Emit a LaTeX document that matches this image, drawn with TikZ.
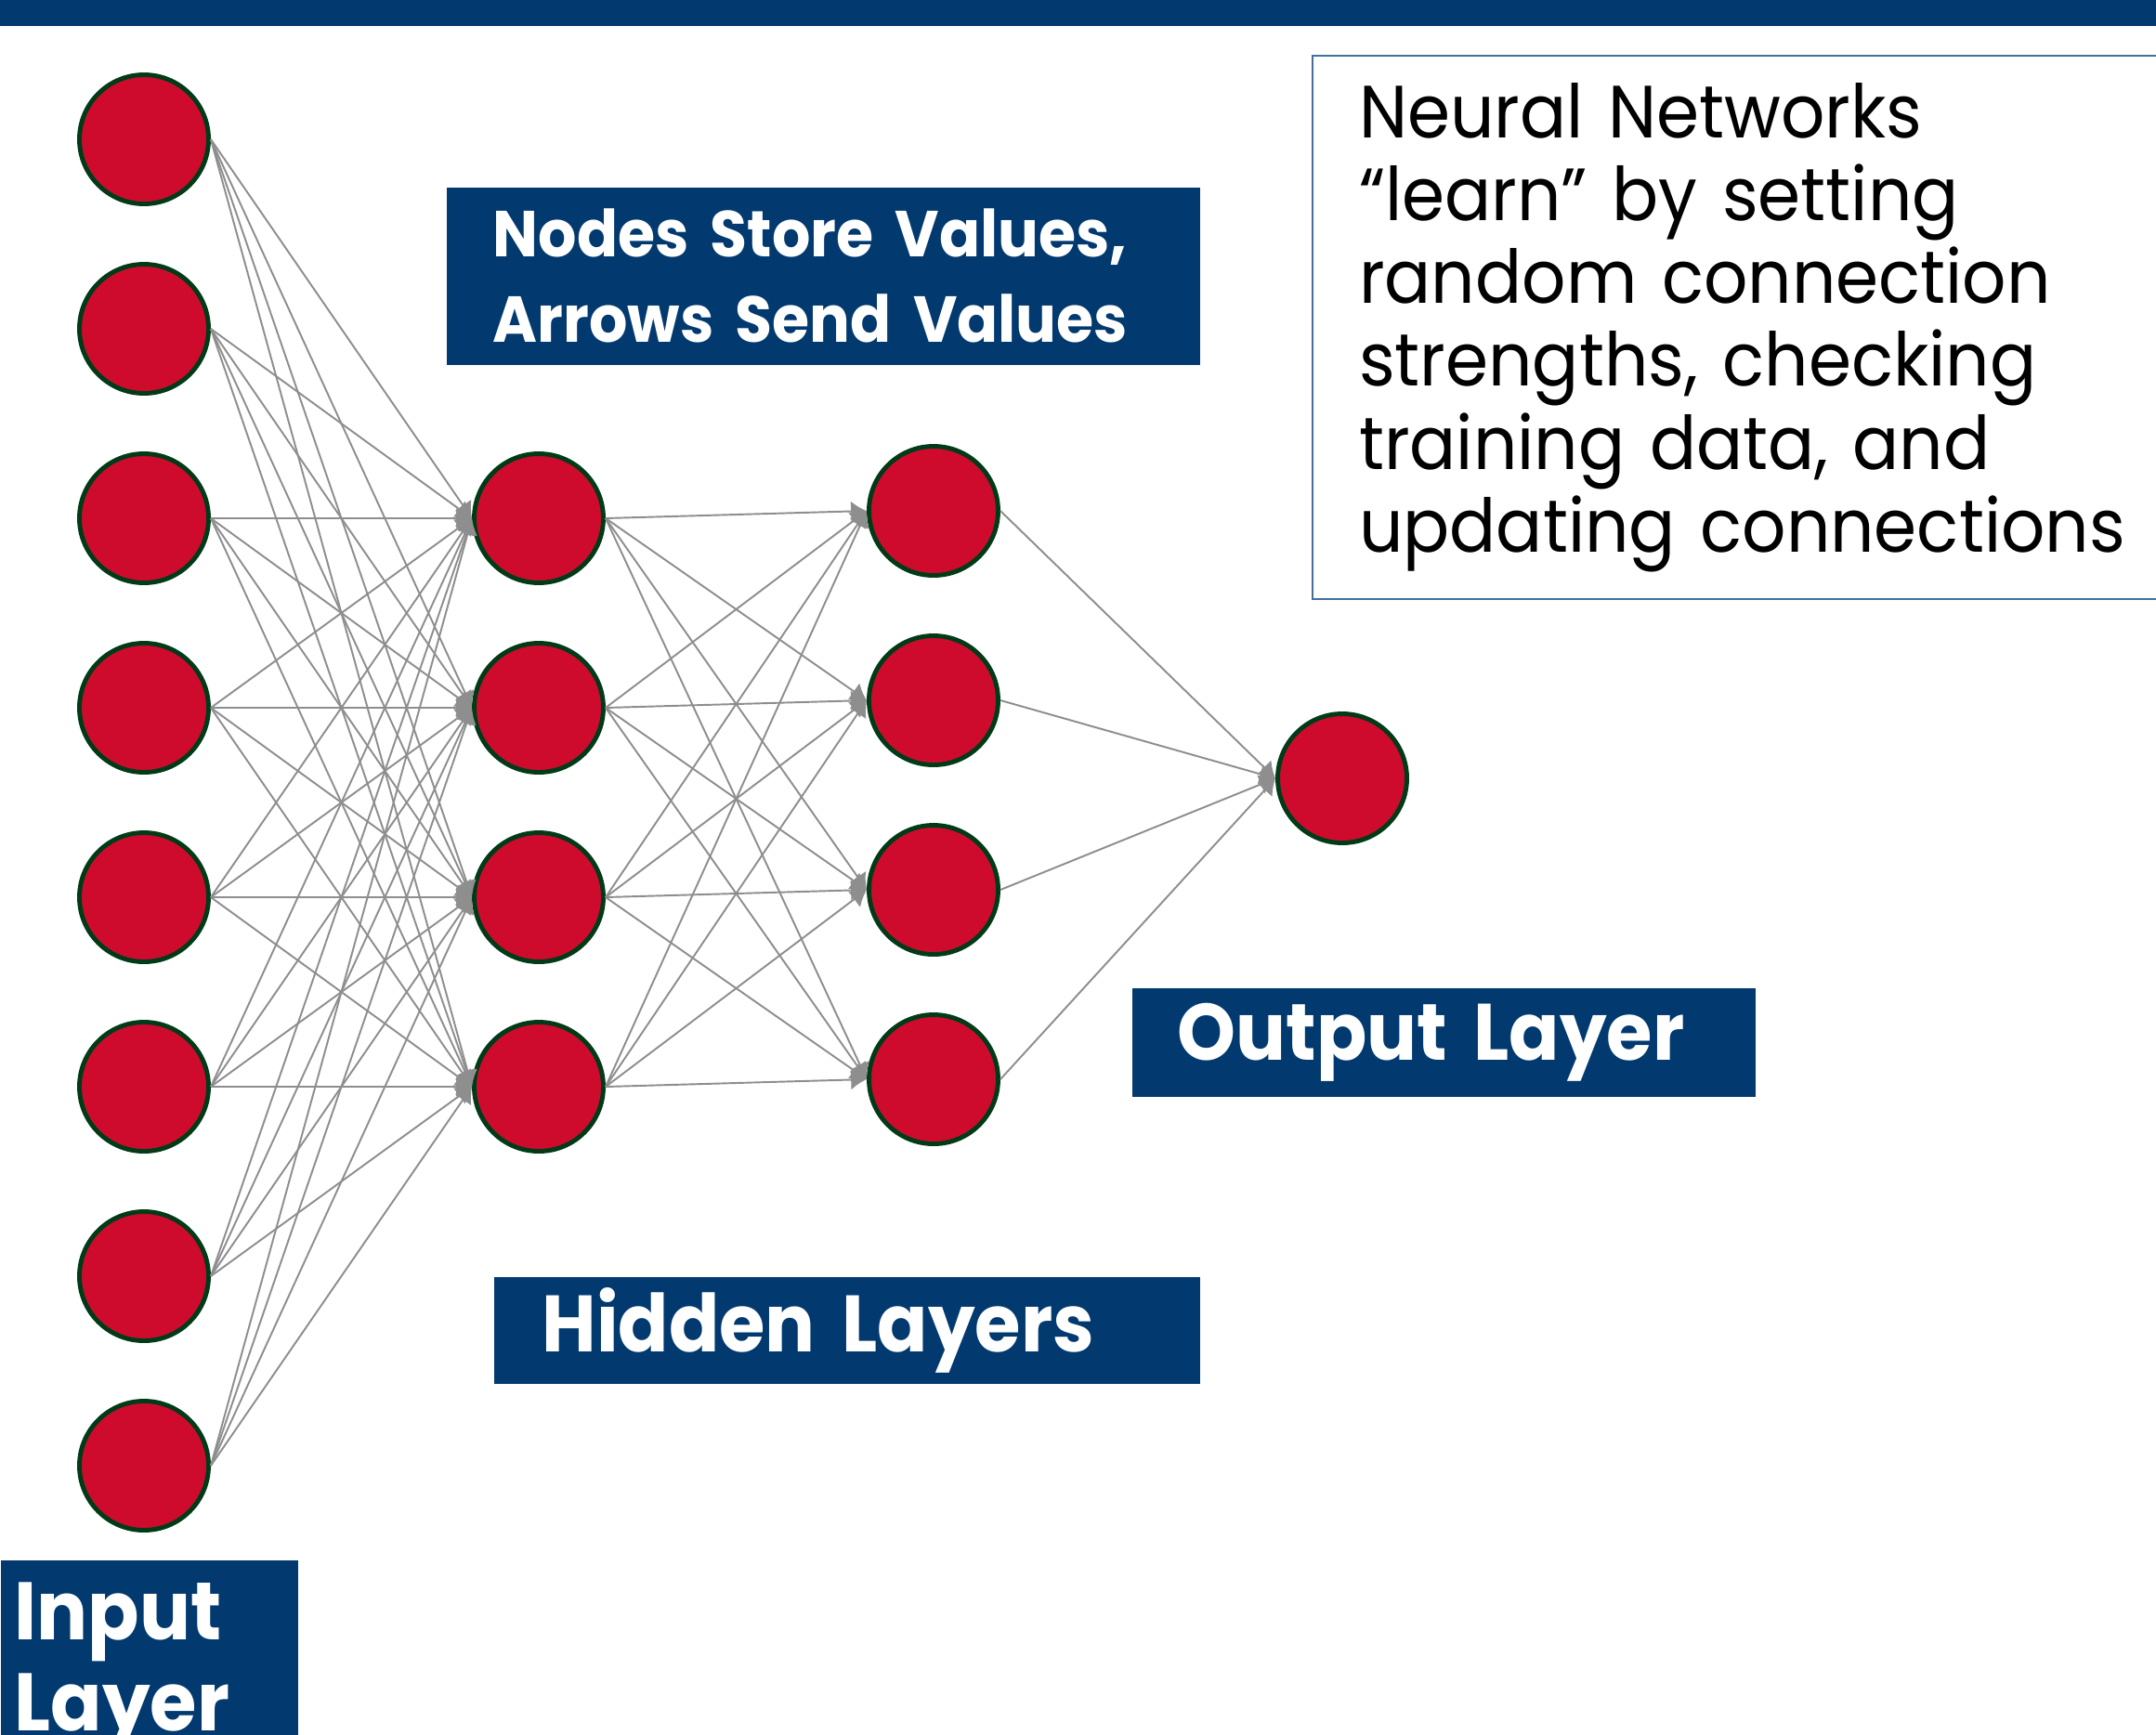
\documentclass[tikz,border=0pt]{standalone}
\usepackage{fontspec}
\setmainfont{Poppins}[FakeStretch=0.93]
\usetikzlibrary{arrows.meta}

\definecolor{navy}{HTML}{023A70}
\definecolor{nodered}{HTML}{CE0B2D}
\definecolor{rim}{HTML}{003B17}
\definecolor{wire}{HTML}{8E8E8E}
\definecolor{frame}{HTML}{41719C}

\begin{document}
\begin{tikzpicture}
	\tikzstyle{neuron}=[draw=rim, fill=nodered, circle, line width=1.4pt, minimum size=1.39cm, inner sep=0pt]
	\tikzstyle{link}=[draw=wire, line width=0.55pt, -{Latex[length=4.8pt,width=6.2pt]}]
	\tikzstyle{banner}=[fill=navy, text=white, align=left, anchor=north west, inner ysep=0pt]
	\newcommand\Xin{1.55}
	\newcommand\Xha{5.80}
	\newcommand\Xhb{10.05}
	\newcommand\Xout{14.45}

	\useasboundingbox (0,0) rectangle (23.21,-18.67);

	% Top bar
	\fill [navy] (0,0) rectangle (23.21,-0.28);

	% Input layer
	\node [neuron] at (\Xin,-1.50) (i1) {};
	\node [neuron] at (\Xin,-3.54) (i2) {};
	\node [neuron] at (\Xin,-5.58) (i3) {};
	\node [neuron] at (\Xin,-7.62) (i4) {};
	\node [neuron] at (\Xin,-9.66) (i5) {};
	\node [neuron] at (\Xin,-11.70) (i6) {};
	\node [neuron] at (\Xin,-13.74) (i7) {};
	\node [neuron] at (\Xin,-15.78) (i8) {};

	% Hidden layers
	\node [neuron] at (\Xha,-5.58) (ha1) {};
	\node [neuron] at (\Xha,-7.62) (ha2) {};
	\node [neuron] at (\Xha,-9.66) (ha3) {};
	\node [neuron] at (\Xha,-11.70) (ha4) {};

	\node [neuron] at (\Xhb,-5.50) (hb1) {};
	\node [neuron] at (\Xhb,-7.54) (hb2) {};
	\node [neuron] at (\Xhb,-9.58) (hb3) {};
	\node [neuron] at (\Xhb,-11.62) (hb4) {};

	% Output layer
	\node [neuron] at (\Xout,-8.38) (out) {};

	% Labels
	\node [banner, inner xsep=0.5cm, text width=7.11cm, minimum height=1.91cm, font=\bfseries\fontsize{19.9}{26.2}\selectfont] at (4.80,-2.01) (storebox) {Nodes Store Values,\\Arrows Send Values};
	\node [banner, inner xsep=0.52cm, text width=6.56cm, minimum height=1.15cm, font=\bfseries\fontsize{24.5}{28}\selectfont] at (5.31,-13.74) (hiddenbox) {Hidden Layers};
	\node [banner, inner xsep=0.49cm, text width=5.73cm, minimum height=1.17cm, font=\bfseries\fontsize{24.5}{28}\selectfont] at (12.18,-10.63) (outbox) {Output Layer};
	\node [banner, inner xsep=0.15cm, inner ysep=0.24cm, text width=2.90cm, font=\bfseries\fontsize{25}{27.9}\selectfont] at (0,-16.79) (inbox) {Input\\Layer};
	\node [draw=frame, line width=0.6pt, anchor=north west, align=left, inner xsep=0.5cm, text width=9cm, minimum height=5.85cm, font=\fontsize{22.7}{25.4}\selectfont] at (14.12,-0.59) (note) {Neural Networks\\“learn” by setting\\random connection\\strengths, checking\\training data, and\\updating connections};

	% Input to first hidden
	\path [link] (i1.east) -- (ha1.west);
	\path [link] (i1.east) -- (ha2.west);
	\path [link] (i1.east) -- (ha3.west);
	\path [link] (i1.east) -- (ha4.west);
	\path [link] (i2.east) -- (ha1.west);
	\path [link] (i2.east) -- (ha2.west);
	\path [link] (i2.east) -- (ha3.west);
	\path [link] (i2.east) -- (ha4.west);
	\path [link] (i3.east) -- (ha1.west);
	\path [link] (i3.east) -- (ha2.west);
	\path [link] (i3.east) -- (ha3.west);
	\path [link] (i3.east) -- (ha4.west);
	\path [link] (i4.east) -- (ha1.west);
	\path [link] (i4.east) -- (ha2.west);
	\path [link] (i4.east) -- (ha3.west);
	\path [link] (i4.east) -- (ha4.west);
	\path [link] (i5.east) -- (ha1.west);
	\path [link] (i5.east) -- (ha2.west);
	\path [link] (i5.east) -- (ha3.west);
	\path [link] (i5.east) -- (ha4.west);
	\path [link] (i6.east) -- (ha1.west);
	\path [link] (i6.east) -- (ha2.west);
	\path [link] (i6.east) -- (ha3.west);
	\path [link] (i6.east) -- (ha4.west);
	\path [link] (i7.east) -- (ha1.west);
	\path [link] (i7.east) -- (ha2.west);
	\path [link] (i7.east) -- (ha3.west);
	\path [link] (i7.east) -- (ha4.west);
	\path [link] (i8.east) -- (ha1.west);
	\path [link] (i8.east) -- (ha2.west);
	\path [link] (i8.east) -- (ha3.west);
	\path [link] (i8.east) -- (ha4.west);

	% First hidden to second hidden
	\path [link] (ha1.east) -- (hb1.west);
	\path [link] (ha1.east) -- (hb2.west);
	\path [link] (ha1.east) -- (hb3.west);
	\path [link] (ha1.east) -- (hb4.west);
	\path [link] (ha2.east) -- (hb1.west);
	\path [link] (ha2.east) -- (hb2.west);
	\path [link] (ha2.east) -- (hb3.west);
	\path [link] (ha2.east) -- (hb4.west);
	\path [link] (ha3.east) -- (hb1.west);
	\path [link] (ha3.east) -- (hb2.west);
	\path [link] (ha3.east) -- (hb3.west);
	\path [link] (ha3.east) -- (hb4.west);
	\path [link] (ha4.east) -- (hb1.west);
	\path [link] (ha4.east) -- (hb2.west);
	\path [link] (ha4.east) -- (hb3.west);
	\path [link] (ha4.east) -- (hb4.west);

	% Second hidden to output
	\path [link] (hb1.east) -- (out.west);
	\path [link] (hb2.east) -- (out.west);
	\path [link] (hb3.east) -- (out.west);
	\path [link] (hb4.east) -- (out.west);
\end{tikzpicture}
\end{document}
